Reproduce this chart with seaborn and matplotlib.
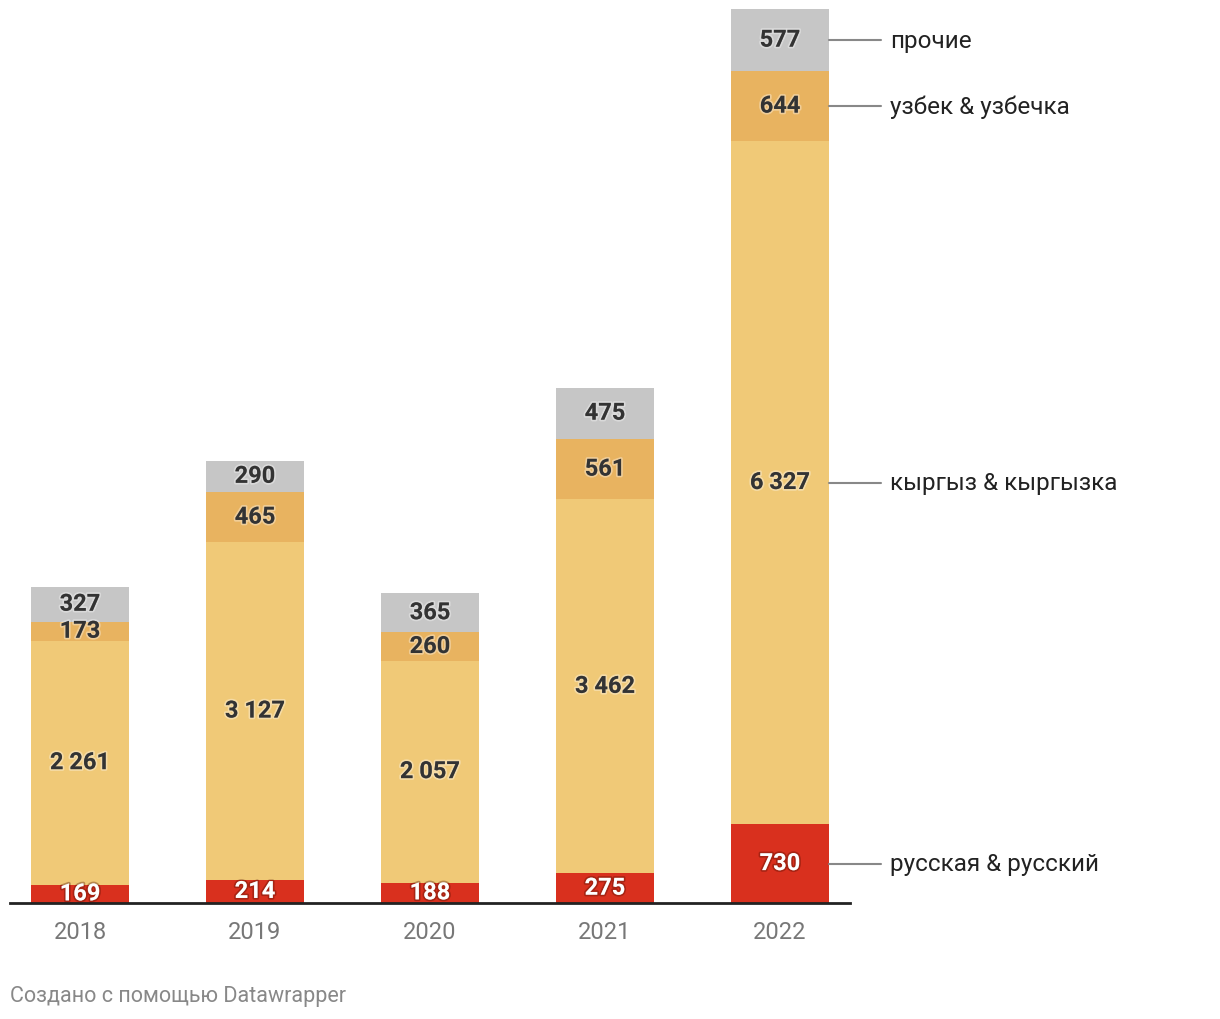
import numpy as np
import pandas as pd
import matplotlib.pyplot as plt
import matplotlib.patheffects as pe
import seaborn as sns

# -----------------------------
# Data
# -----------------------------
years = ["2018", "2019", "2020", "2021", "2022"]
series_names = ["русская & русский", "кыргыз & кыргызка", "узбек & узбечка", "прочие"]
russian = [169, 214, 188, 275, 730]
kyrgyz = [2261, 3127, 2057, 3462, 6327]
uzbek = [173, 465, 260, 561, 644]
other = [327, 290, 365, 475, 577]

colors = ["#d9301e", "#f0c977", "#e8b360", "#c6c6c6"]

df = pd.DataFrame({"year": years, series_names[0]: russian, series_names[1]: kyrgyz,
                   series_names[2]: uzbek, series_names[3]: other})

sns.set_theme(style="white")
plt.rcParams["font.family"] = ["Roboto", "DejaVu Sans"]

fig = plt.figure(figsize=(12.2, 10.2), dpi=100)
ax = fig.add_axes([10 / 1220, 1 - 904 / 1020, 840 / 1220, 894 / 1020])

# -----------------------------
# Stacked bars
# -----------------------------
bottom = np.zeros(len(years))
bar_w = 0.56
for i, name in enumerate(series_names):
    vals = df[name].to_numpy()
    sns.barplot(data=df, x="year", y=name, color=colors[i], bottom=bottom,
                width=bar_w, saturation=1, ax=ax, linewidth=0)
    cont = ax.containers[-1]
    labels = [f"{v:,}".replace(",", " ") for v in vals]
    if i == 0:
        tcol, glow = "white", (0.3, 0.05, 0.0, 0.35)
    else:
        tcol, glow = "#333333", (1, 1, 1, 0.35)
    texts = ax.bar_label(cont, labels=labels, label_type="center", fontsize=17,
                         fontweight="bold", color=tcol)
    for t in texts:
        t.set_path_effects([pe.withStroke(linewidth=2.5, foreground=glow)])
    bottom = bottom + vals

total = bottom.max()
ax.set_xlim(-0.4, 4.4)
ax.set_ylim(0, total)

# -----------------------------
# Right-side series labels
# -----------------------------
last = len(years) - 1
cum = 0
for i, name in enumerate(series_names):
    v = df[name].iloc[last]
    yc = cum + v / 2
    cum += v
    x0 = last + bar_w / 2
    ax.plot([x0, x0 + 52 / 175], [yc, yc], color="#888888", lw=1.5, clip_on=False)
    ax.text(x0 + 61 / 175, yc, name, fontsize=17.5, color="#222222",
            ha="left", va="center", clip_on=False)

# -----------------------------
# Axes styling
# -----------------------------
for s in ["top", "right", "left"]:
    ax.spines[s].set_visible(False)
ax.spines["bottom"].set_color("#222222")
ax.spines["bottom"].set_linewidth(2)
ax.set_yticks([])
ax.set_xlabel("")
ax.set_ylabel("")
ax.tick_params(axis="x", length=0, pad=12, labelsize=17, labelcolor="#777777")

fig.text(10 / 1220, 1 - 997 / 1020, "Создано с помощью Datawrapper", fontsize=15.5,
         color="#888888", ha="left", va="center")

fig.savefig("out.png", dpi=100, facecolor="white")
